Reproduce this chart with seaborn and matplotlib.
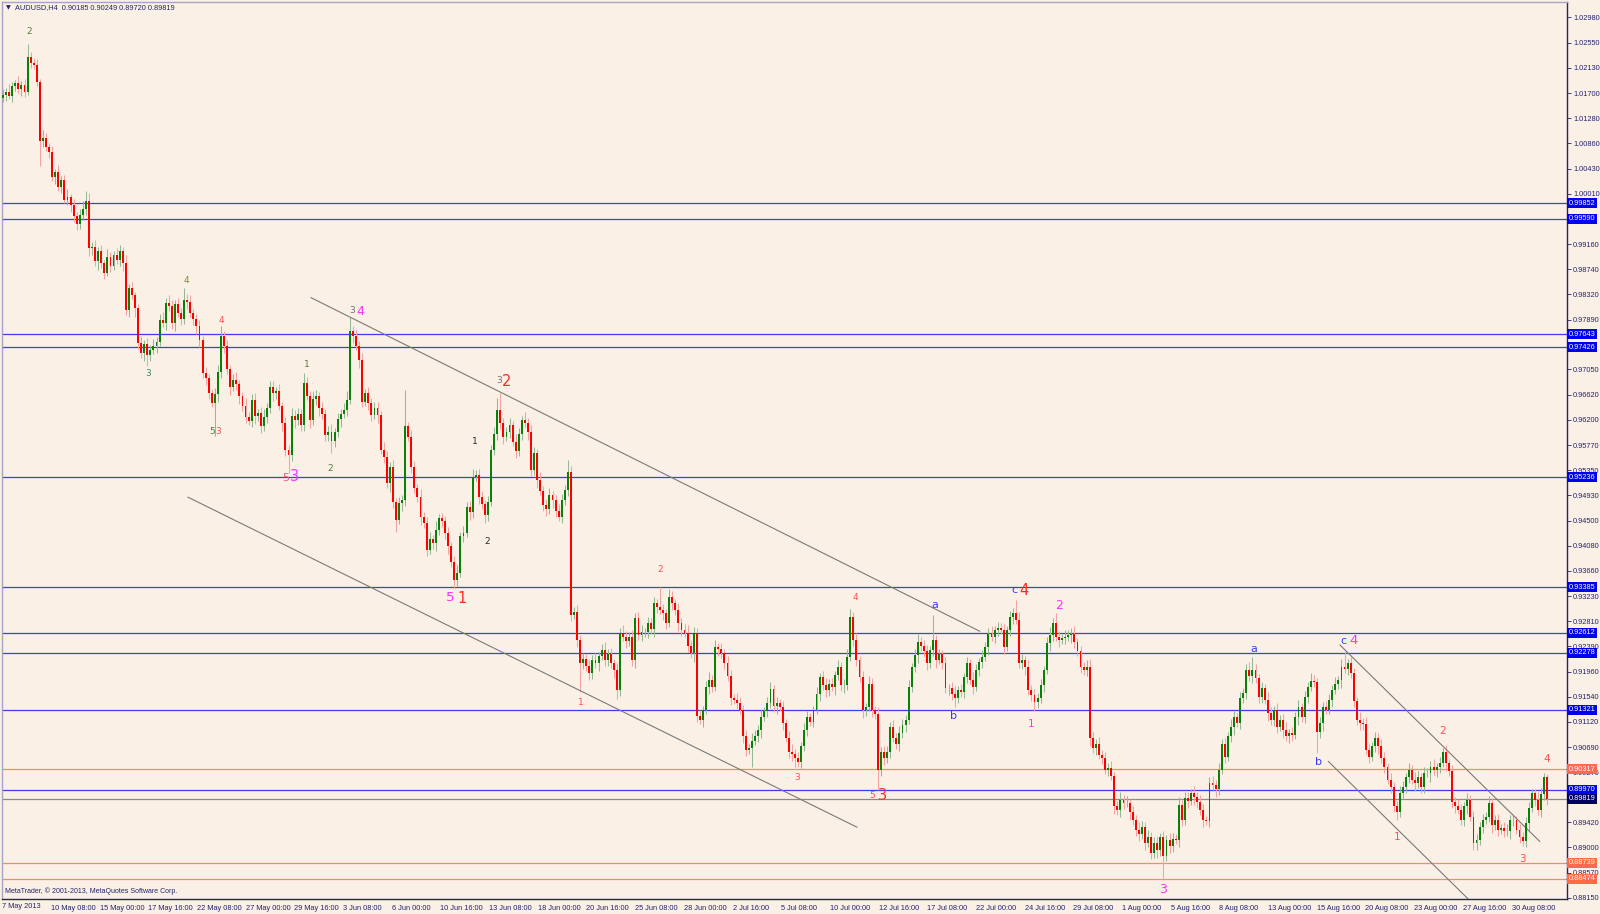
import numpy as np
import pandas as pd
import matplotlib
matplotlib.use('Agg')
import matplotlib.pyplot as plt
import matplotlib.transforms as mtransforms
import seaborn as sns

# AUDUSD H4 closes, in 1e-4 units
first_open = 10162
closes = [
    10168, 10172, 10166, 10182, 10188, 10178, 10184, 10172, 10232, 10222,
    10218, 10190, 10089, 10095, 10080, 10072, 10030, 10038, 10013, 10024,
    9990, 9996, 9982, 9963, 9950, 9965, 9975, 9988, 9909, 9912,
    9887, 9905, 9884, 9868, 9895, 9880, 9898, 9890, 9904, 9884,
    9805, 9842, 9830, 9808, 9750, 9733, 9748, 9730, 9738, 9745,
    9752, 9789, 9783, 9817, 9812, 9783, 9815, 9800, 9790, 9822,
    9818, 9800, 9790, 9778, 9755, 9699, 9690, 9665, 9649, 9663,
    9700, 9761, 9744, 9705, 9675, 9688, 9680, 9660, 9643, 9625,
    9618, 9654, 9626, 9632, 9609, 9625, 9640, 9675, 9665, 9668,
    9643, 9615, 9570, 9561, 9626, 9620, 9630, 9612, 9682, 9660,
    9620, 9655, 9660, 9640, 9630, 9595, 9600, 9584, 9600, 9621,
    9630, 9637, 9654, 9769, 9761, 9745, 9721, 9651, 9665, 9649,
    9629, 9640, 9628, 9570, 9558, 9513, 9541, 9482, 9452, 9480,
    9485, 9609, 9592, 9541, 9505, 9491, 9457, 9446, 9401, 9420,
    9412, 9435, 9454, 9450, 9429, 9407, 9380, 9351, 9362, 9424,
    9430, 9474, 9465, 9524, 9527, 9490, 9478, 9460, 9482, 9569,
    9597, 9637, 9614, 9592, 9600, 9612, 9583, 9567, 9597, 9620,
    9615, 9600, 9536, 9564, 9519, 9500, 9477, 9470, 9494, 9485,
    9466, 9457, 9485, 9502, 9533, 9292, 9297, 9250, 9210, 9218,
    9205, 9193, 9216, 9210, 9222, 9233, 9216, 9226, 9210, 9199,
    9165, 9261, 9255, 9247, 9255, 9216, 9286, 9258, 9262, 9262,
    9278, 9268, 9311, 9305, 9300, 9294, 9278, 9322, 9311, 9300,
    9278, 9266, 9261, 9240, 9227, 9261, 9121, 9115, 9132, 9170,
    9182, 9171, 9238, 9235, 9227, 9210, 9188, 9151, 9149, 9143,
    9132, 9087, 9064, 9067, 9080, 9087, 9098, 9120, 9130, 9143,
    9166, 9138, 9143, 9137, 9109, 9085, 9061, 9058, 9050, 9044,
    9070, 9098, 9120, 9112, 9131, 9159, 9187, 9173, 9165, 9176,
    9170, 9190, 9204, 9173, 9173, 9221, 9288, 9250, 9216, 9187,
    9131, 9136, 9176, 9131, 9125, 9031, 9061, 9050, 9061, 9103,
    9085, 9075, 9092, 9106, 9115, 9171, 9204, 9224, 9246, 9240,
    9230, 9210, 9232, 9249, 9216, 9225, 9210, 9168, 9168, 9159,
    9152, 9165, 9162, 9187, 9210, 9182, 9171, 9199, 9212, 9221,
    9238, 9260, 9255, 9266, 9270, 9266, 9238, 9266, 9288, 9295,
    9283, 9210, 9215, 9204, 9165, 9157, 9145, 9152, 9173, 9199,
    9244, 9258, 9278, 9255, 9249, 9252, 9255, 9258, 9260, 9246,
    9230, 9204, 9199, 9204, 9084, 9067, 9075, 9056, 9050, 9031,
    9034, 9020, 8969, 8963, 8980, 8975, 8975, 8960, 8946, 8929,
    8923, 8935, 8907, 8918, 8890, 8907, 8896, 8918, 8885, 8913,
    8902, 8915, 8913, 8972, 8946, 8983, 8978, 8991, 8985, 8977,
    8963, 8946, 8944, 9008, 9005, 8998, 9031, 9075, 9053, 9087,
    9103, 9120, 9110, 9151, 9160, 9199, 9188, 9199, 9185, 9154,
    9168, 9148, 9126, 9115, 9132, 9103, 9115, 9098, 9087, 9093,
    9090, 9120, 9137, 9120, 9154, 9171, 9180, 9179, 9095, 9109,
    9137, 9132, 9148, 9165, 9176, 9182, 9204, 9201, 9210, 9193,
    9146, 9115, 9110, 9108, 9064, 9053, 9070, 9084, 9070, 9050,
    9036, 9014, 9002, 8969, 8960, 8991, 9002, 9019, 9031, 9014,
    9008, 9019, 9002, 9025, 9025, 9036, 9030, 9036, 9042, 9061,
    9042, 9028, 8977, 8969, 8963, 8946, 8969, 8980, 8952, 8907,
    8912, 8935, 8946, 8952, 8974, 8938, 8946, 8930, 8933, 8927,
    8927, 8946, 8946, 8930, 8918, 8910, 8941, 8966, 8991, 8980,
    8963, 8990, 9018, 8982,
]
# wick lengths above / below the body, 1e-4 units
upper_wick = [
    10, 7, 13, 8, 5, 11, 7, 10, 21, 8, 7, 10, 5, 13, 8, 7, 10, 5, 11, 7, 8, 13, 5, 10,
    7, 10, 13, 18, 14, 8, 11, 7, 10, 5, 13, 8, 7, 11, 10, 8, 14, 7, 10, 5, 8, 11, 7, 10,
    8, 11, 7, 10, 13, 8, 14, 10, 7, 11, 8, 20, 10, 13, 7, 8, 11, 7, 10, 8, 7, 10, 13, 17,
    8, 11, 7, 10, 13, 8, 7, 14, 8, 10, 11, 7, 10, 13, 8, 11, 10, 8, 13, 7, 10, 8, 14, 10,
    10, 8, 17, 11, 8, 13, 10, 7, 11, 8, 10, 13, 7, 10, 8, 11, 14, 25, 10, 13, 8, 11, 7, 10,
    8, 11, 10, 7, 13, 10, 8, 11, 7, 10, 8, 61, 8, 11, 10, 7, 13, 8, 10, 11, 7, 14, 8, 10,
    8, 11, 7, 10, 13, 8, 11, 7, 10, 14, 8, 10, 11, 7, 10, 8, 11, 20, 28, 10, 8, 11, 7, 13,
    10, 7, 13, 8, 11, 10, 7, 14, 8, 10, 11, 7, 8, 13, 10, 8, 20, 10, 8, 11, 7, 10, 8, 11,
    8, 11, 7, 10, 13, 8, 10, 7, 11, 8, 13, 10, 7, 11, 8, 10, 13, 7, 10, 8, 11, 7, 34, 10,
    8, 13, 10, 7, 11, 8, 10, 13, 7, 10, 8, 11, 7, 10, 13, 8, 11, 7, 10, 8, 13, 10, 7, 11,
    10, 8, 11, 7, 13, 10, 8, 11, 7, 10, 13, 8, 11, 7, 10, 8, 11, 13, 7, 10, 8, 11, 10, 7,
    8, 11, 7, 10, 13, 8, 10, 7, 11, 8, 10, 13, 14, 8, 11, 7, 10, 8, 13, 10, 7, 11, 8, 10,
    10, 8, 11, 7, 13, 10, 8, 11, 7, 10, 13, 8, 10, 11, 7, 43, 8, 10, 7, 11, 8, 10, 13, 7,
    10, 7, 11, 8, 13, 10, 7, 11, 8, 10, 13, 7, 10, 8, 11, 7, 10, 8, 22, 13, 10, 7, 11, 8,
    10, 8, 11, 7, 10, 13, 8, 16, 10, 7, 11, 8, 10, 13, 7, 10, 8, 11, 14, 10, 7, 11, 8, 10,
    8, 11, 7, 10, 13, 8, 11, 7, 10, 8, 13, 10, 7, 11, 8, 10, 13, 7, 10, 8, 11, 10, 7, 13,
    8, 11, 10, 7, 13, 8, 11, 10, 7, 10, 13, 8, 11, 7, 10, 8, 13, 10, 7, 11, 8, 10, 13, 22,
    10, 7, 11, 8, 13, 10, 7, 11, 8, 10, 13, 7, 10, 8, 11, 7, 10, 8, 13, 10, 7, 11, 8, 10,
    10, 8, 11, 7, 13, 26, 8, 11, 10, 7, 13, 8, 11, 10, 7, 10, 8, 13, 10, 7, 11, 8, 10, 13,
    10, 7, 11, 8, 13, 10, 7, 11, 8, 10, 13, 7, 10, 6, 11, 7, 10, 8, 13, 10, 7, 11, 8, 10,
    10, 8, 11, 7, 13, 10, 8, 11, 7, 10, 13, 8, 11, 7, 10, 8, 11, 10, 7, 8, 13, 10, 7, 6,
]
lower_wick = [
    7, 11, 5, 10, 8, 7, 13, 8, 5, 10, 7, 8, 42, 10, 7, 11, 8, 13, 7, 10, 5, 8, 11, 10,
    10, 8, 7, 10, 13, 11, 7, 14, 8, 10, 5, 11, 8, 7, 10, 13, 8, 11, 7, 14, 10, 8, 13, 20,
    10, 7, 13, 8, 7, 11, 8, 10, 14, 7, 10, 8, 11, 7, 10, 14, 13, 8, 11, 10, 7, 56, 13, 10,
    11, 8, 13, 7, 10, 14, 8, 11, 7, 10, 13, 8, 11, 7, 10, 8, 13, 10, 7, 14, 11, 30, 10, 13,
    8, 11, 10, 7, 13, 8, 10, 14, 8, 11, 10, 20, 10, 8, 13, 7, 10, 8, 11, 7, 14, 10, 8, 13,
    10, 8, 13, 7, 11, 8, 14, 10, 20, 8, 13, 10, 7, 11, 8, 10, 14, 8, 11, 7, 10, 13, 8, 11,
    10, 13, 8, 14, 11, 7, 10, 8, 13, 10, 7, 11, 8, 14, 10, 7, 8, 11, 10, 13, 8, 10, 7, 11,
    8, 11, 7, 13, 10, 8, 14, 7, 10, 11, 8, 13, 10, 7, 11, 8, 10, 11, 8, 13, 48, 10, 8, 11,
    10, 8, 13, 7, 11, 10, 8, 14, 15, 10, 8, 11, 7, 10, 13, 8, 11, 7, 10, 8, 13, 10, 7, 11,
    10, 7, 11, 8, 13, 10, 7, 11, 8, 15, 10, 7, 13, 8, 11, 10, 7, 13, 8, 10, 7, 11, 8, 10,
    8, 11, 10, 7, 31, 8, 10, 13, 7, 11, 8, 10, 13, 8, 11, 7, 10, 13, 14, 8, 10, 7, 11, 8,
    10, 7, 13, 8, 11, 10, 7, 14, 8, 10, 13, 8, 7, 11, 10, 8, 13, 10, 7, 11, 8, 34, 10, 11,
    8, 11, 7, 10, 13, 8, 11, 7, 10, 8, 13, 10, 7, 11, 8, 10, 13, 7, 10, 8, 11, 10, 15, 8,
    8, 11, 10, 7, 13, 8, 11, 10, 7, 14, 8, 11, 10, 7, 13, 8, 10, 11, 7, 8, 10, 13, 8, 11,
    16, 10, 8, 11, 7, 13, 10, 8, 11, 7, 10, 8, 13, 10, 7, 11, 8, 10, 13, 8, 11, 7, 10, 8,
    10, 7, 13, 8, 11, 10, 7, 14, 8, 10, 13, 8, 11, 7, 10, 8, 13, 10, 37, 8, 11, 10, 7, 13,
    10, 8, 11, 7, 13, 10, 8, 11, 7, 10, 8, 13, 10, 7, 11, 8, 10, 13, 7, 11, 8, 10, 7, 11,
    8, 11, 10, 7, 13, 8, 11, 10, 7, 14, 8, 11, 10, 7, 13, 8, 10, 11, 7, 8, 36, 10, 13, 8,
    8, 11, 7, 10, 13, 8, 11, 7, 10, 8, 13, 10, 7, 11, 8, 10, 13, 7, 10, 8, 11, 10, 14, 8,
    8, 11, 10, 7, 13, 8, 11, 10, 7, 14, 8, 11, 10, 7, 13, 8, 10, 11, 7, 8, 10, 13, 8, 11,
    11, 8, 11, 7, 10, 13, 8, 11, 7, 10, 8, 13, 10, 7, 11, 8, 10, 13, 7, 10, 8, 11, 10, 10,
]

date_labels = [
    '10 May 08:00', '15 May 00:00', '17 May 16:00', '22 May 08:00', '27 May 00:00',
    '29 May 16:00', '3 Jun 08:00', '6 Jun 00:00', '10 Jun 16:00', '13 Jun 08:00',
    '18 Jun 00:00', '20 Jun 16:00', '25 Jun 08:00', '28 Jun 00:00', '2 Jul 16:00',
    '5 Jul 08:00', '10 Jul 00:00', '12 Jul 16:00', '17 Jul 08:00', '22 Jul 00:00',
    '24 Jul 16:00', '29 Jul 08:00', '1 Aug 00:00', '5 Aug 16:00', '8 Aug 08:00',
    '13 Aug 00:00', '15 Aug 16:00', '20 Aug 08:00', '23 Aug 00:00', '27 Aug 16:00',
    '30 Aug 08:00',
]
first_date_label = '7 May 2013'
first_tick_bar = 15.6
bars_per_label = 15.86

# right scale (values hidden under a price box are left out)
price_ticks = [
    1.02980, 1.02550, 1.02130, 1.01700, 1.01280, 1.00860, 1.00430, 1.00010,
    0.99160, 0.98740, 0.98320, 0.97890, 0.97050, 0.96620,
    0.96200, 0.95770, 0.95350, 0.94930, 0.94500, 0.94080, 0.93660, 0.93230,
    0.92810, 0.92390, 0.91960, 0.91540, 0.91120, 0.90690, 0.90270,
    0.89420, 0.89000, 0.88570, 0.88150,
]
blue_levels = [0.99852, 0.99590, 0.97643, 0.97426, 0.95236, 0.93385,
               0.92612, 0.92278, 0.91321, 0.89970]
red_levels = [0.90317, 0.88739, 0.88474]
last_price = 0.89819

# trend lines: (bar, price) -> (bar, price)
trend_lines = [
    ((100.3, 0.98260), (318.2, 0.92640)),
    ((60.2, 0.94900), (278.2, 0.89340)),
    ((435.5, 0.92410), (500.6, 0.89100)),
    ((431.7, 0.90450), (477.3, 0.88130)),
]

GREEN = '#4f7f3a'
OLIVE = '#7f8a2a'
TEAL = '#3f8a6a'
GRAY = '#707070'
BLACK = '#2a2a2a'
RED = '#ff2a2a'
SALMON = '#ff5050'
MAGENTA = '#ff30ff'
PINK = '#ff5090'
BLUE = '#3a3aff'
S, B = 6.5, 10.5

# wave counts: (bar, price, text, colour, size)
wave_labels = [
    (8.6, 1.0274, '2', GREEN, S),
    (59.8, 0.98546, '4', OLIVE, S),
    (47.2, 0.96982, '3', TEAL, S),
    (71.1, 0.97875, '4', SALMON, S),
    (68.0, 0.96002, '5', GREEN, S), (70.2, 0.96002, '3', SALMON, S),
    (92.0, 0.95228, '5', PINK, 8), (94.9, 0.95240, '3', MAGENTA, B),
    (99.0, 0.97136, '1', GREEN, S),
    (106.7, 0.95383, '2', GREEN, S),
    (113.8, 0.98047, '3', GRAY, S), (116.4, 0.98030, '4', MAGENTA, 9),
    (161.5, 0.96861, '3', GRAY, S), (163.9, 0.96840, '2', RED, B),
    (153.6, 0.95830, '1', BLACK, S),
    (157.6, 0.94146, '2', BLACK, S),
    (145.6, 0.93217, '5', MAGENTA, 9.5), (149.4, 0.93200, '1', RED, B),
    (188.1, 0.91447, '1', SALMON, S),
    (214.1, 0.93681, '2', SALMON, S),
    (277.6, 0.93217, '4', SALMON, S),
    (258.6, 0.90175, '3', SALMON, S),
    (283.2, 0.89866, '5', SALMON, S), (286.6, 0.89866, '3', RED, B),
    (303.5, 0.93080, 'a', BLUE, 8),
    (309.5, 0.91206, 'b', BLUE, 8),
    (329.4, 0.93338, 'c', BLUE, 8), (332.6, 0.93320, '4', RED, B),
    (335.0, 0.91086, '1', MAGENTA, 7.5),
    (344.0, 0.93080, '2', MAGENTA, 9),
    (377.9, 0.88284, '3', MAGENTA, 9),
    (407.5, 0.92341, 'a', BLUE, 8),
    (428.5, 0.90433, 'b', BLUE, 8),
    (436.7, 0.92478, 'c', BLUE, 8), (439.8, 0.92478, '4', MAGENTA, 9.5),
    (454.0, 0.89178, '1', SALMON, 7.5),
    (469.0, 0.90966, '2', SALMON, 7.5),
    (495.0, 0.88800, '3', SALMON, 7.5),
    (503.0, 0.90485, '4', SALMON, 7.5),
]

BG = '#fbf0e5'
NAVY = '#23236e'
UI_FONT = ['Liberation Sans', 'DejaVu Sans']
FS = 5.3

sns.set_style('white')
plt.rcParams['font.family'] = ['DejaVu Sans']

# candle table
c = np.array(closes) / 1e4
o = np.array([first_open] + closes[:-1]) / 1e4
df = pd.DataFrame({'bar': np.arange(len(c)), 'open': o, 'close': c})
df['top'] = df[['open', 'close']].max(axis=1)
df['bot'] = df[['open', 'close']].min(axis=1)
df['high'] = df['top'] + np.array(upper_wick) / 1e4
df['low'] = df['bot'] - np.array(lower_wick) / 1e4
df['up'] = df['close'] >= df['open']

fig = plt.figure(figsize=(16, 9.14), dpi=100, facecolor=BG)
ax = fig.add_axes([0.00125, 0.0164, 0.978, 0.9814])
ax.set_facecolor(BG)

# level lines
for lv in blue_levels:
    ax.axhline(lv, color='#3c3cf0', lw=0.9, zorder=1)
for lv in red_levels:
    ax.axhline(lv, color='#f58a72', lw=0.9, zorder=1)
ax.axhline(last_price, color='#8a8a8a', lw=0.9, zorder=1)

# wicks and bodies
wick_col = np.where(df['up'], '#94b894', '#f4a3a3')
ax.vlines(df['bar'], df['low'], df['high'], colors=wick_col, lw=0.75, zorder=2)
body_col = np.where(df['up'], '#0a800a', '#ff0000')
height = (df['top'] - df['bot']).clip(lower=0.00006)
ax.bar(df['bar'], height, bottom=df['bot'], width=0.62, color=body_col,
       linewidth=0, zorder=3)

# trend lines
for (x0, y0), (x1, y1) in trend_lines:
    sns.lineplot(x=[x0, x1], y=[y0, y1], ax=ax, color='#7a7a7a', lw=0.8,
                 zorder=2, estimator=None)

for bx, py, txt, col, fs in wave_labels:
    ax.text(bx, py, txt, color=col, fontsize=fs, ha='center', va='center', zorder=4)

ax.set_xlim(-0.33, 509.4)
ax.set_ylim(0.88131, 1.03239)

# axes styling
for side in ['left', 'top']:
    ax.spines[side].set_color('#a6a6c4')
    ax.spines[side].set_linewidth(1.0)
for side in ['right', 'bottom']:
    ax.spines[side].set_color(NAVY)
    ax.spines[side].set_linewidth(1.0)

ax.yaxis.tick_right()
ax.set_yticks(price_ticks)
ax.set_yticklabels([f'{p:.5f}' for p in price_ticks], family=UI_FONT)
ax.tick_params(axis='y', direction='out', length=3, width=0.6, color=NAVY,
               labelcolor=NAVY, labelsize=FS, pad=1.5)

tick_bars = [first_tick_bar + bars_per_label * k for k in range(len(date_labels))]
ax.set_xticks(tick_bars)
ax.set_xticklabels(date_labels, ha='left', family=UI_FONT)
ax.tick_params(axis='x', direction='out', length=3, width=0.6, color=NAVY,
               labelcolor=NAVY, labelsize=FS, pad=1)
ax.set_xlabel('')
ax.set_ylabel('')
ax.grid(False)
ax.text(0.0, -0.0045, first_date_label, transform=ax.transAxes, fontsize=FS,
        color=NAVY, ha='left', va='top', family=UI_FONT)

# price boxes on the right scale
trans = mtransforms.blended_transform_factory(ax.transAxes, ax.transData)
box_colors = [(lv, '#0000f0') for lv in blue_levels] + \
             [(lv, '#ff6a4a') for lv in red_levels] + [(last_price, '#000060')]
for lv, fc in box_colors:
    ax.text(1.0012, lv, f'{lv:.5f}', transform=trans, fontsize=FS, color='white',
            ha='left', va='center', clip_on=False, zorder=6, family=UI_FONT,
            bbox=dict(boxstyle='square,pad=0.2', fc=fc, ec='none'))

# header and footer text
ax.text(0.0025, 0.9935, '\u25bc', transform=ax.transAxes, fontsize=4.5,
        color=NAVY, ha='left', va='center')
ax.text(0.0085, 0.9935, 'AUDUSD,H4  0.90185 0.90249 0.89720 0.89819',
        transform=ax.transAxes, fontsize=FS, color=NAVY, ha='left', va='center',
        family=UI_FONT)
ax.text(0.002, 0.0045, 'MetaTrader, \u00a9 2001-2013, MetaQuotes Software Corp.',
        transform=ax.transAxes, fontsize=5.0, color=NAVY, ha='left', va='bottom',
        family=UI_FONT)

fig.savefig('out.png', dpi=100, facecolor=BG)
